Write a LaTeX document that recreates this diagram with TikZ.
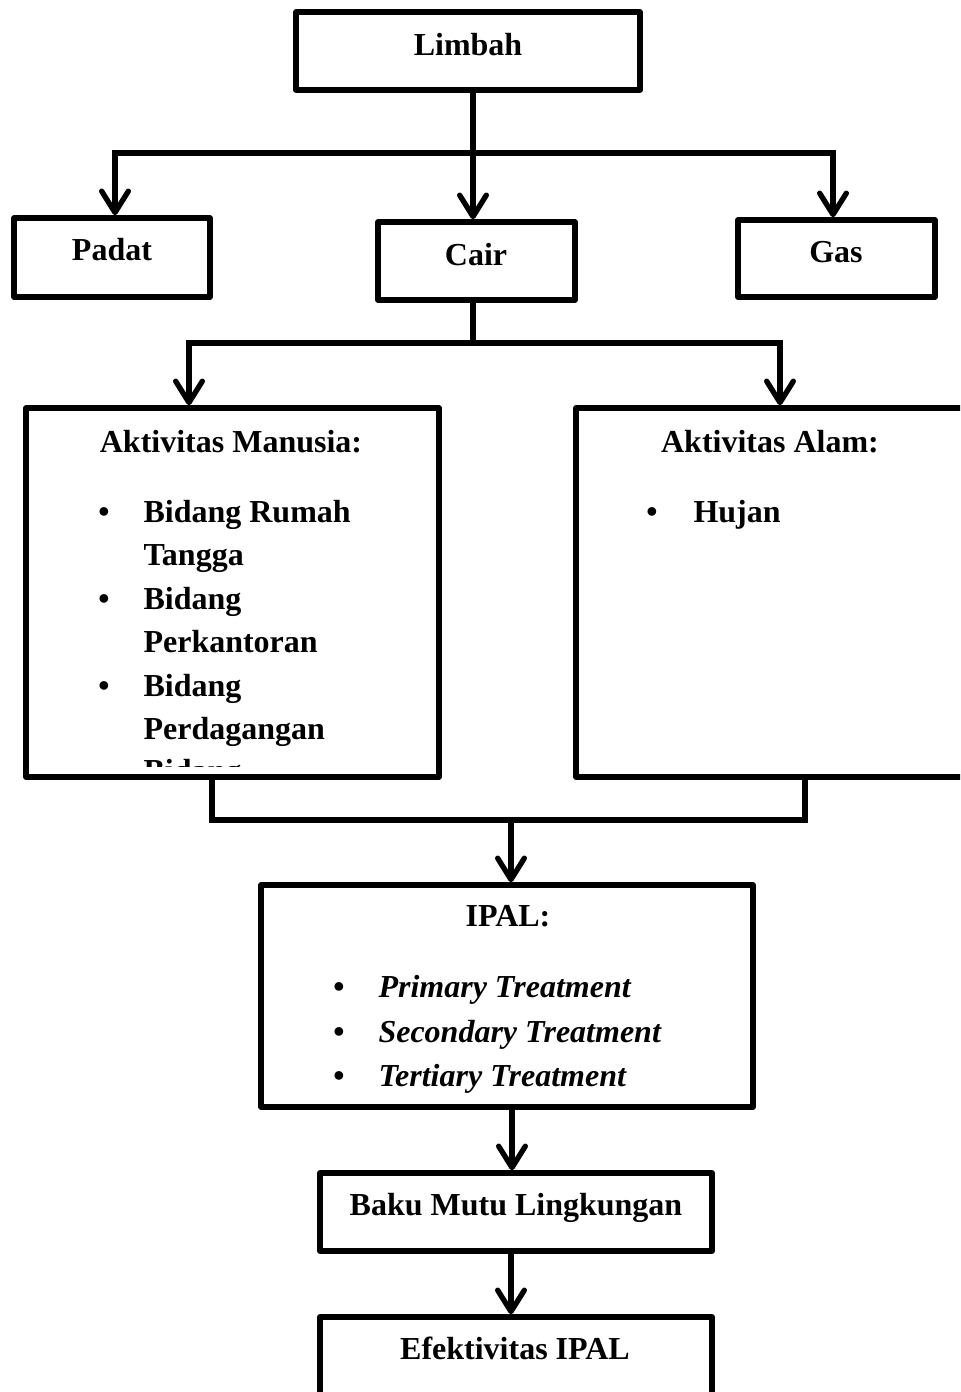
\documentclass[tikz,border=0pt]{standalone}
\usepackage{fontspec}
\setmainfont{Liberation Serif}
\usetikzlibrary{arrows.meta,fit}
\begin{document}
\begin{tikzpicture}[x=0.375pt,y=-0.375pt,
  box/.style={draw,line width=2.1pt,line join=round,inner sep=0pt,rectangle},
  conn/.style={line width=2pt,line join=miter},
  arr/.style={conn,-{Straight Barb[length=8pt,width=10pt,round]}},
  txt/.style={inner sep=0pt,anchor=base,font=\fontsize{12}{14}\selectfont\bfseries},
  ltxt/.style={txt,anchor=base west},
  itxt/.style={ltxt,font=\fontsize{12}{14}\selectfont\bfseries\itshape},
  bul/.style={txt}]
\clip (0,0) rectangle (960,1392);
\fill[white] (0,0) rectangle (960,1392);
% boxes
\node[box,fit={(296,12) (640,90)}] (limbah) {};
\node[box,fit={(14,218) (210,297)}] (padat) {};
\node[box,fit={(378,222) (575,300)}] (cair) {};
\node[box,fit={(738,220) (935,297)}] (gas) {};
\node[box,fit={(26,408) (439,777)}] (manusia) {};
\node[box,fit={(576,408) (990,777)}] (alam) {};
\node[box,fit={(261,885) (753,1107)}] (ipal) {};
\node[box,fit={(320,1173) (712,1251)}] (baku) {};
\node[box,fit={(320,1317) (712,1430)}] (efek) {};
% titles
\node[txt] (tLimbah) at (468,55) {Limbah};
\node[txt] (tPadat) at (112,260) {Padat};
\node[txt] (tCair) at (476,265) {Cair};
\node[txt] (tGas) at (836,262) {Gas};
\node[txt] (tMan) at (231,452) {Aktivitas Manusia:};
\node[txt] (tAlam) at (770,452) {Aktivitas Alam:};
\node[txt] (tIpal) at (508,926) {IPAL:};
\node[txt] (tBaku) at (516,1215) {Baku Mutu Lingkungan};
\node[txt] (tEfek) at (515,1359) {Efektivitas IPAL};
% manusia list
\begin{scope}
\clip (30,412) rectangle (435,766);
\node[bul] (bm1) at (104,522) {•};
\node[ltxt] (m1) at (143,522) {Bidang Rumah};
\node[ltxt] (m2) at (143,565) {Tangga};
\node[bul] (bm2) at (104,609) {•};
\node[ltxt] (m3) at (143,609) {Bidang};
\node[ltxt] (m4) at (143,652) {Perkantoran};
\node[bul] (bm3) at (104,696) {•};
\node[ltxt] (m5) at (143,696) {Bidang};
\node[ltxt] (m6) at (143,739) {Perdagangan};
\node[bul] (bm4) at (104,782) {•};
\node[ltxt] (m7) at (143,781) {Bidang};
\end{scope}
% alam list
\node[bul] (ba1) at (652,522) {•};
\node[ltxt] (a1) at (693,522) {Hujan};
% ipal list
\node[bul] (bi1) at (339,997) {•};
\node[itxt] (i1) at (378,997) {Primary Treatment};
\node[bul] (bi2) at (339,1042) {•};
\node[itxt] (i2) at (378,1042) {Secondary Treatment};
\node[bul] (bi3) at (339,1086) {•};
\node[itxt] (i3) at (378,1086) {Tertiary Treatment};
% connectors level 1
\coordinate (j1) at (473,153);
\coordinate (j1L) at (115,153);
\coordinate (j1R) at (833,153);
\draw[conn] (limbah.south -| j1) -- (j1);
\draw[arr] (j1) -- (j1L) -- (padat.north -| j1L);
\draw[arr] (j1) -- (j1R) -- (gas.north -| j1R);
\draw[arr] (j1) -- (cair.north -| j1);
% level 2
\coordinate (j2) at (473,343);
\coordinate (j2L) at (189,343);
\coordinate (j2R) at (780,343);
\draw[conn] (cair.south -| j2) -- (j2);
\draw[arr] (j2) -- (j2L) -- (manusia.north -| j2L);
\draw[arr] (j2) -- (j2R) -- (alam.north -| j2R);
% level 3
\coordinate (j3L) at (212,820);
\coordinate (j3R) at (805,820);
\coordinate (j3) at (511,820);
\draw[conn] (manusia.south -| j3L) -- (j3L) -- (j3R) -- (alam.south -| j3R);
\draw[arr] (j3) -- (ipal.north -| j3);
% level 4,5
\coordinate (j4) at (512,0);
\draw[arr] (ipal.south -| j4) -- (baku.north -| j4);
\coordinate (j5) at (511,0);
\draw[arr] (baku.south -| j5) -- (efek.north -| j5);
\end{tikzpicture}
\end{document}
